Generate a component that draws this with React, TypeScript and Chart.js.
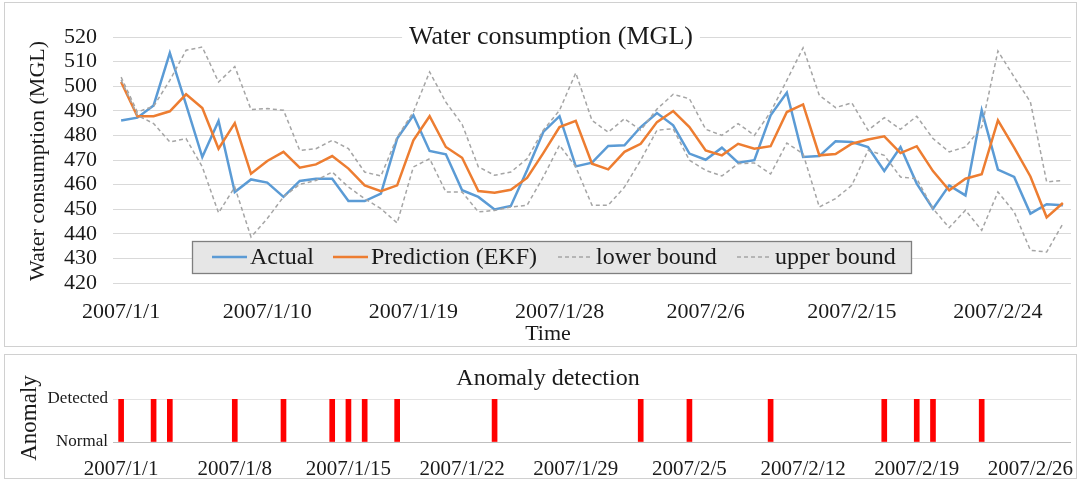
import React, { useEffect, useRef } from "react";
import { Chart, registerables } from "chart.js";

Chart.register(...registerables);

const SERIF = '"Liberation Serif", "Times New Roman", serif';
const TEXT = "#1a1a1a";

const DATES = [
  "2007/1/1", "2007/1/2", "2007/1/3", "2007/1/4", "2007/1/5", "2007/1/6", "2007/1/7", "2007/1/8",
  "2007/1/9", "2007/1/10", "2007/1/11", "2007/1/12", "2007/1/13", "2007/1/14", "2007/1/15", "2007/1/16",
  "2007/1/17", "2007/1/18", "2007/1/19", "2007/1/20", "2007/1/21", "2007/1/22", "2007/1/23", "2007/1/24",
  "2007/1/25", "2007/1/26", "2007/1/27", "2007/1/28", "2007/1/29", "2007/1/30", "2007/1/31",
  "2007/2/1", "2007/2/2", "2007/2/3", "2007/2/4", "2007/2/5", "2007/2/6", "2007/2/7", "2007/2/8",
  "2007/2/9", "2007/2/10", "2007/2/11", "2007/2/12", "2007/2/13", "2007/2/14", "2007/2/15", "2007/2/16",
  "2007/2/17", "2007/2/18", "2007/2/19", "2007/2/20", "2007/2/21", "2007/2/22", "2007/2/23", "2007/2/24",
  "2007/2/25", "2007/2/26", "2007/2/27", "2007/2/28",
];

const ACTUAL = [
  486.1, 487.2, 492.2, 513.5, 492.5, 471.2, 485.9, 457.0, 462.1, 460.8,
  455.0, 461.5, 462.4, 462.4, 453.3, 453.3, 456.3, 478.7, 488.2, 473.7,
  472.3, 457.7, 455.0, 449.9, 451.3, 465.8, 481.4, 487.8, 467.4, 468.9,
  475.7, 476.0, 483.4, 489.1, 484.1, 472.6, 470.1, 475.0, 468.9, 469.9,
  488.2, 497.4, 471.2, 471.6, 477.6, 477.3, 475.3, 465.5, 475.3, 460.4,
  450.2, 459.7, 455.6, 490.2, 466.1, 463.1, 448.2, 452.0, 451.6,
];

const PREDICTION = [
  501.7, 487.8, 487.8, 489.8, 496.7, 491.1, 474.6, 485.0, 464.4, 469.6,
  473.3, 466.9, 468.2, 471.6, 466.5, 459.7, 457.3, 459.7, 478.0, 487.8,
  475.3, 470.9, 457.4, 456.7, 457.9, 462.7, 472.8, 483.4, 485.9, 468.5,
  466.2, 473.3, 476.6, 485.4, 489.9, 483.4, 473.9, 471.9, 476.6, 474.6,
  475.6, 489.5, 492.6, 471.9, 472.4, 476.6, 478.3, 479.6, 472.8, 475.6,
  465.5, 457.7, 462.4, 464.2, 486.1, 475.0, 463.3, 446.7, 452.5,
];

const LOWER_BOUND = [
  502.5, 488.2, 484.8, 477.3, 478.7, 467.2, 448.5, 459.0, 438.7, 446.2,
  455.0, 460.1, 461.7, 465.1, 459.0, 454.3, 450.2, 444.4, 467.2, 470.5,
  457.0, 457.0, 448.9, 449.5, 450.9, 451.6, 463.1, 476.0, 467.2, 451.6,
  451.6, 459.0, 469.9, 482.1, 482.7, 469.9, 465.8, 463.5, 468.5, 468.8,
  464.3, 476.9, 472.5, 450.9, 454.3, 459.7, 473.9, 471.9, 463.1, 462.4,
  450.2, 442.5, 449.6, 441.4, 457.0, 448.9, 433.3, 432.6, 444.1,
];

const UPPER_BOUND = [
  503.7, 489.5, 491.8, 502.4, 514.6, 515.9, 501.7, 508.0, 490.5, 490.9,
  490.2, 473.9, 474.6, 478.0, 474.6, 465.1, 463.5, 479.3, 489.5, 505.8,
  493.5, 484.5, 467.2, 463.8, 465.1, 470.5, 482.1, 490.2, 505.4, 486.1,
  481.3, 486.8, 482.1, 490.7, 496.7, 494.9, 482.5, 480.0, 484.8, 480.0,
  489.5, 502.4, 515.6, 496.3, 491.3, 493.2, 482.1, 487.2, 482.5, 487.8,
  478.7, 473.3, 475.3, 483.4, 514.3, 503.7, 493.6, 461.1, 461.7,
];

const ANOMALY_DATES = [
  "2007/1/1", "2007/1/3", "2007/1/4", "2007/1/8", "2007/1/11", "2007/1/14", "2007/1/15",
  "2007/1/16", "2007/1/18", "2007/1/24", "2007/2/2", "2007/2/5", "2007/2/10", "2007/2/17",
  "2007/2/19", "2007/2/20", "2007/2/23",
];
const ANOMALY_LEVELS = ["Normal", "Detected"];

const SERIES_NAMES = ["Actual", "Prediction (EKF)", "lower bound", "upper bound"];
const TOP_TITLE = "Water consumption (MGL)";
const Y_TITLE = "Water consumption (MGL)";
const X_TITLE = "Time";
const BOTTOM_TITLE = "Anomaly detection";
const BOTTOM_Y_TITLE = "Anomaly";

const Y_MIN = 420;
const Y_MAX = 520;
const Y_STEP = 10;
const TOP_LABEL_EVERY = 9;
const BOTTOM_LABEL_EVERY = 7;

const C_ACTUAL = "#5b9bd5";
const C_PRED = "#ed7d31";
const C_BOUND = "#a5a5a5";
const BOUND_DASH = [4, 3];

const topDecor = {
  id: "topDecor",
  afterDraw(chart: any) {
    const ctx = chart.ctx as CanvasRenderingContext2D;
    ctx.save();
    ctx.font = `26px ${SERIF}`;
    const tw = ctx.measureText(TOP_TITLE).width;
    ctx.fillStyle = "#ffffff";
    ctx.fillRect(551 - tw / 2 - 7, 22, tw + 14, 30);
    ctx.fillStyle = TEXT;
    ctx.textAlign = "center";
    ctx.textBaseline = "middle";
    ctx.fillText(TOP_TITLE, 551, 37);

    ctx.save();
    ctx.translate(38, 161);
    ctx.rotate(-Math.PI / 2);
    ctx.font = `22px ${SERIF}`;
    ctx.fillText(Y_TITLE, 0, 0);
    ctx.restore();

    ctx.font = `22px ${SERIF}`;
    ctx.fillText(X_TITLE, 548, 334);

    const lx0 = 192, lx1 = 911, ly0 = 241, ly1 = 273;
    ctx.fillStyle = "#e6e6e6";
    ctx.fillRect(lx0, ly0, lx1 - lx0, ly1 - ly0);
    ctx.strokeStyle = "#7f7f7f";
    ctx.lineWidth = 1.3;
    ctx.strokeRect(lx0 + 0.5, ly0 + 0.5, lx1 - lx0, ly1 - ly0);

    const cy = (ly0 + ly1) / 2;
    const items = [
      { x: 212, color: C_ACTUAL, dash: [] as number[], w: 2.5 },
      { x: 333, color: C_PRED, dash: [] as number[], w: 2.5 },
      { x: 558, color: C_BOUND, dash: BOUND_DASH, w: 1.5 },
      { x: 737, color: C_BOUND, dash: BOUND_DASH, w: 1.5 },
    ];
    ctx.font = `24px ${SERIF}`;
    ctx.textAlign = "left";
    items.forEach((it, i) => {
      ctx.beginPath();
      ctx.setLineDash(it.dash);
      ctx.strokeStyle = it.color;
      ctx.lineWidth = it.w;
      ctx.moveTo(it.x, cy);
      ctx.lineTo(it.x + 35, cy);
      ctx.stroke();
      ctx.setLineDash([]);
      ctx.fillStyle = TEXT;
      ctx.fillText(SERIES_NAMES[i], it.x + 38, cy + 1);
    });
    ctx.restore();
  },
};

const bottomDecor = {
  id: "bottomDecor",
  afterDraw(chart: any) {
    const ctx = chart.ctx as CanvasRenderingContext2D;
    ctx.save();
    ctx.fillStyle = TEXT;
    ctx.textAlign = "center";
    ctx.textBaseline = "middle";
    ctx.font = `24px ${SERIF}`;
    ctx.fillText(BOTTOM_TITLE, 548, 29);
    ctx.translate(30, 68);
    ctx.rotate(-Math.PI / 2);
    ctx.font = `23px ${SERIF}`;
    ctx.fillText(BOTTOM_Y_TITLE, 0, 0);
    ctx.restore();
  },
};

function TopChart() {
  const ref = useRef<HTMLCanvasElement | null>(null);
  useEffect(() => {
    if (!ref.current) return;
    const line = (label: string, data: number[], color: string, width: number, dash: number[], order: number) => ({
      label,
      data,
      borderColor: color,
      backgroundColor: color,
      borderWidth: width,
      borderDash: dash,
      pointRadius: 0,
      tension: 0,
      fill: false,
      order,
    });
    const chart = new Chart(ref.current, {
      type: "line",
      data: {
        labels: DATES,
        datasets: [
          line(SERIES_NAMES[0], ACTUAL, C_ACTUAL, 2.5, [], 3),
          line(SERIES_NAMES[1], PREDICTION, C_PRED, 2.5, [], 2),
          line(SERIES_NAMES[2], LOWER_BOUND, C_BOUND, 1.5, BOUND_DASH, 1),
          line(SERIES_NAMES[3], UPPER_BOUND, C_BOUND, 1.5, BOUND_DASH, 0),
        ],
      },
      options: {
        responsive: false,
        animation: false,
        layout: { padding: { left: 0, right: 10, top: 37, bottom: 0 } },
        plugins: {
          legend: { display: false },
          title: { display: false },
          tooltip: { enabled: false },
        },
        scales: {
          x: {
            type: "category",
            offset: true,
            grid: { display: false },
            border: { display: false },
            ticks: {
              autoSkip: false,
              maxRotation: 0,
              minRotation: 0,
              padding: 8,
              color: TEXT,
              font: { family: SERIF, size: 22 },
              callback: (_v: any, i: number) => (i % TOP_LABEL_EVERY === 0 ? DATES[i] : ""),
            },
            afterFit: (s: any) => {
              s.height = 67;
            },
          },
          y: {
            min: Y_MIN,
            max: Y_MAX,
            border: { display: false },
            grid: { color: "#d9d9d9", drawTicks: false, lineWidth: 1 },
            ticks: {
              stepSize: Y_STEP,
              autoSkip: false,
              padding: 16,
              color: TEXT,
              font: { family: SERIF, size: 22 },
            },
            afterFit: (s: any) => {
              s.width = 113;
            },
          },
        },
      } as any,
      plugins: [topDecor],
    });
    return () => chart.destroy();
  }, []);
  return <canvas ref={ref} width={1081} height={350} style={{ position: "absolute", left: 0, top: 0, width: 1081, height: 350 }} />;
}

function BottomChart() {
  const ref = useRef<HTMLCanvasElement | null>(null);
  useEffect(() => {
    if (!ref.current) return;
    const chart = new Chart(ref.current, {
      type: "bar",
      data: {
        labels: DATES,
        datasets: [
          {
            label: BOTTOM_Y_TITLE,
            data: ANOMALY_DATES.map((d) => ({ x: d, y: 1 })),
            backgroundColor: "#ff0000",
            borderWidth: 0,
            barThickness: 5,
          },
        ],
      },
      options: {
        responsive: false,
        animation: false,
        layout: { padding: { left: 0, right: 10, top: 49, bottom: 0 } },
        plugins: {
          legend: { display: false },
          tooltip: { enabled: false },
        },
        scales: {
          x: {
            type: "category",
            offset: true,
            grid: { display: false },
            border: { display: false },
            ticks: {
              autoSkip: false,
              maxRotation: 0,
              minRotation: 0,
              padding: 7,
              color: TEXT,
              font: { family: SERIF, size: 21 },
              callback: (_v: any, i: number) => (i % BOTTOM_LABEL_EVERY === 0 ? DATES[i] : ""),
            },
            afterFit: (s: any) => {
              s.height = 39;
            },
          },
          y: {
            min: 0,
            max: 1,
            border: { display: false },
            grid: {
              drawTicks: false,
              color: (c: any) => (c.tick && c.tick.value === 0 ? "#bfbfbf" : "#e3e3e3"),
            },
            ticks: {
              stepSize: 1,
              autoSkip: false,
              padding: 5,
              color: TEXT,
              font: { family: SERIF, size: 17 },
              callback: (v: any) => ANOMALY_LEVELS[v] ?? "",
            },
            afterFit: (s: any) => {
              s.width = 113;
            },
          },
        },
      } as any,
      plugins: [bottomDecor],
    });
    return () => chart.destroy();
  }, []);
  return <canvas ref={ref} width={1081} height={131} style={{ position: "absolute", left: 0, top: 350, width: 1081, height: 131 }} />;
}

export default function App() {
  return (
    <div style={{ position: "absolute", left: 0, top: 0, width: 1081, height: 481, background: "#ffffff", overflow: "hidden" }}>
      <div style={{ position: "absolute", left: 4, top: 2, width: 1073, height: 345, border: "1px solid #d0d0d0", boxSizing: "border-box" }} />
      <div style={{ position: "absolute", left: 4, top: 354, width: 1073, height: 125, border: "1px solid #d0d0d0", boxSizing: "border-box" }} />
      <TopChart />
      <BottomChart />
    </div>
  );
}
